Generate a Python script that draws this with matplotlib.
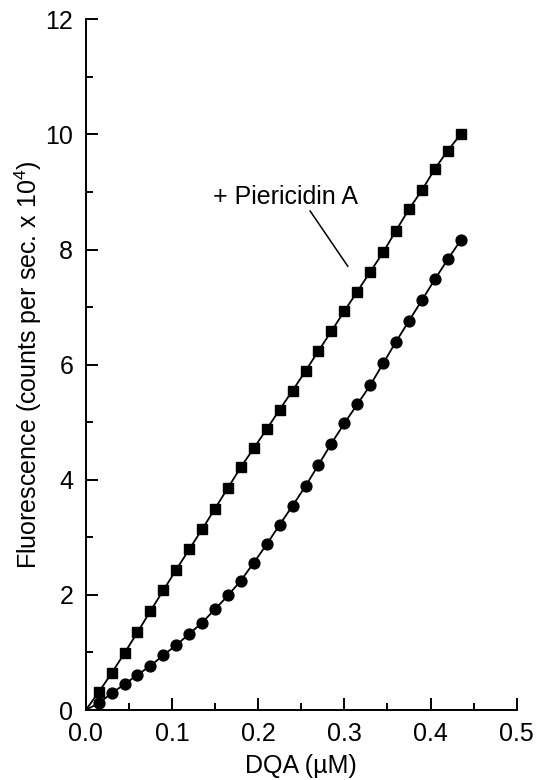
import matplotlib
matplotlib.use('Agg')
import matplotlib.pyplot as plt
from matplotlib.ticker import MultipleLocator, FormatStrFormatter

plt.rcParams['font.family'] = ['Liberation Sans', 'DejaVu Sans']
plt.rcParams['mathtext.fontset'] = 'custom'
plt.rcParams['mathtext.rm'] = 'Liberation Sans'
plt.rcParams['mathtext.it'] = 'Liberation Sans'
plt.rcParams['mathtext.default'] = 'regular'

# DQA concentration (uM)
dqa = [0.015, 0.030, 0.045, 0.060, 0.075, 0.090, 0.105, 0.120, 0.135, 0.150,
       0.165, 0.180, 0.195, 0.210, 0.225, 0.240, 0.255, 0.270, 0.285, 0.300,
       0.315, 0.330, 0.345, 0.360, 0.375, 0.390, 0.405, 0.420, 0.435]

# + Piericidin A (squares)
fl_pier = [0.31, 0.64, 0.99, 1.35, 1.72, 2.08, 2.44, 2.79, 3.14, 3.50,
           3.86, 4.22, 4.55, 4.88, 5.22, 5.55, 5.89, 6.24, 6.58, 6.93,
           7.27, 7.61, 7.95, 8.33, 8.70, 9.03, 9.40, 9.72, 10.00]

# control (circles)
fl_ctrl = [0.12, 0.29, 0.45, 0.61, 0.77, 0.95, 1.13, 1.32, 1.52, 1.75,
           1.99, 2.25, 2.56, 2.88, 3.22, 3.55, 3.89, 4.26, 4.63, 4.98,
           5.31, 5.64, 6.02, 6.40, 6.76, 7.12, 7.48, 7.83, 8.16]

fs = 18

fig = plt.figure(figsize=(5.36, 7.8), dpi=100)
ax = fig.add_axes([0.160, 0.0897, 0.804, 0.8856])

# fitted curves go through the origin
ax.plot([0] + dqa, [0] + fl_pier, color='black', lw=1.3, zorder=2)
ax.plot([0] + dqa, [0] + fl_ctrl, color='black', lw=1.3, zorder=2)
ax.plot(dqa, fl_pier, 's', color='black', ms=7.2, zorder=3)
ax.plot(dqa, fl_ctrl, 'o', color='black', ms=7.8, zorder=3)

# label with pointer line
ax.text(0.148, 8.92, '+ Piericidin A', fontsize=fs, ha='left', va='center')
ax.plot([0.2603, 0.304], [8.67, 7.71], color='black', lw=1.1)

ax.set_xlim(0, 0.5)
ax.set_ylim(0, 12)
ax.xaxis.set_major_locator(MultipleLocator(0.1))
ax.xaxis.set_minor_locator(MultipleLocator(0.05))
ax.xaxis.set_major_formatter(FormatStrFormatter('%.1f'))
ax.yaxis.set_major_locator(MultipleLocator(2))
ax.yaxis.set_minor_locator(MultipleLocator(1))

for s in ['top', 'right']:
    ax.spines[s].set_visible(False)
for s in ['left', 'bottom']:
    ax.spines[s].set_linewidth(1.4)

ax.tick_params(which='both', direction='in', width=1.4, labelsize=fs)
ax.tick_params(which='major', length=8.8)
ax.tick_params(which='minor', length=4.8)
ax.tick_params(axis='x', pad=8.5)
ax.tick_params(axis='y', pad=9)

ax.set_xlabel('DQA (µM)', fontsize=fs, labelpad=6)
ax.set_ylabel('Fluorescence (counts per sec. x 10$^{4}$)', fontsize=fs, labelpad=1)

fig.savefig('out.png', dpi=100)
